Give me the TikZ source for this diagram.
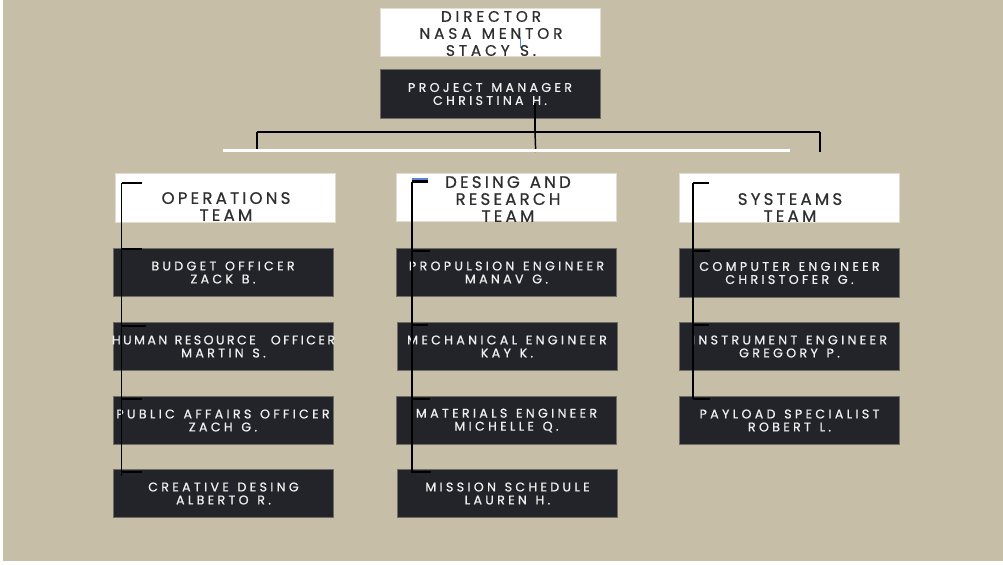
\documentclass[tikz,border=0pt]{standalone}
\usepackage{fontspec}
\newfontfamily\dfont[LetterSpace=26,WordSpace=1.3,FakeBold=0.6]{Poppins}
\newfontfamily\dfontn[LetterSpace=19,WordSpace=1.3,FakeBold=0.6]{Poppins}
\newfontfamily\tfont[LetterSpace=19,WordSpace=1.3,FakeBold=0.6]{Poppins}
\newfontfamily\rfont[LetterSpace=25,WordSpace=1.3,FakeBold=0.6]{Poppins}
\usetikzlibrary{calc}
\definecolor{bg}{HTML}{C6BEA6}
\definecolor{darkbox}{HTML}{232429}
\definecolor{darkedge}{HTML}{6E6C66}
\definecolor{wedge}{HTML}{E2DDD0}
\definecolor{txtdark}{HTML}{2E2E30}
\definecolor{txtlight}{HTML}{F0F0F0}
\definecolor{cursor}{HTML}{5B86D6}
\tikzset{
  wbox/.style={fill=white,draw=wedge,line width=0.6pt,minimum width=165pt,minimum height=36.5pt,inner sep=0pt},
  dbox/.style={fill=darkbox,draw=darkedge,line width=0.6pt,minimum width=165pt,minimum height=36.5pt,inner sep=0pt,
     text=txtlight,align=center,font=\dfont\fontsize{9.5}{9.75}\selectfont},
  ttext/.style={inner sep=0pt,text=txtdark,align=center,font=\tfont\fontsize{12.5}{12.75}\selectfont},
  conn/.style={draw=black,line width=1.1pt},
}
\begin{document}
\begin{tikzpicture}[x=0.75pt,y=-0.75pt]
\useasboundingbox (0,0) rectangle (1003,564);
\fill[white] (0,0) rectangle (1003,564);
\fill[bg] (3,0) rectangle (1003,560.5);

% top
\node[wbox] (dir) at (490,32.5) {};
\node[ttext,font=\rfont\fontsize{11.5}{12.75}\selectfont] (dirt) at (491,33.5) {DIRECTOR\\NASA MENTOR\\STACY S.};
\draw[cursor,line width=0.5pt] (520.5,37) -- (520.5,48);
\node[dbox] (pm) at (490,94) {PROJECT MANAGER\\CHRISTINA H.};

% bus
\coordinate (pmdrop) at (535,103);
\coordinate (busM) at (535,131.5);
\coordinate (busL) at (257,131.5);
\coordinate (busR) at (820,131.5);
\coordinate (dropL) at (257,151);
\coordinate (dropM) at (535.7,152);
\coordinate (dropR) at (820,152);
\coordinate (wl) at (223,150.5);
\coordinate (wr) at (790,150.5);
\draw[conn] (pmdrop) -- (busM);
\draw[conn,line width=1.5pt] (busL) -- (busR);
\draw[conn] (busL) -- (dropL);
\draw[conn] (busR) -- (dropR);
\draw[conn] (busM) -- (dropM);
\draw[white,line width=2.2pt] (wl) -- (wr);

% team boxes
\node[wbox] (ops) at (225,198) {};
\node[ttext] (opst) at (226,206.5) {OPERATIONS\\TEAM};
\node[wbox] (des) at (506,197.5) {};
\node[ttext] (dest) at (508,199) {DESING AND\\RESEARCH\\TEAM};
\node[wbox] (sys) at (789.5,198) {};
\node[ttext] (syst) at (790,207.5) {SYSTEAMS\\TEAM};

% column 1
\node[dbox] (b1) at (223,272.5) {BUDGET OFFICER\\ZACK B.};
\node[dbox] (b2) at (223.5,346.5) {\makebox[150pt]{\dfontn HUMAN RESOURCE\ \ OFFICER}\\MARTIN S.};
\node[dbox] (b3) at (223,420.5) {\makebox[150pt]{PUBLIC AFFAIRS OFFICER}\\ZACH G.};
\node[dbox] (b4) at (223.5,493.5) {CREATIVE DESING\\ALBERTO R.};
% column 2
\node[dbox] (m1) at (506.5,272.5) {PROPULSION ENGINEER\\MANAV G.};
\node[dbox] (m2) at (507,346.5) {MECHANICAL ENGINEER\\KAY K.};
\node[dbox] (m3) at (506.5,420.5) {MATERIALS ENGINEER\\MICHELLE Q.};
\node[dbox] (m4) at (507.5,493.5) {MISSION SCHEDULE\\LAUREN H.};
% column 3
\node[dbox] (s1) at (789.5,273) {COMPUTER ENGINEER\\CHRISTOFER G.};
\node[dbox] (s2) at (789.5,346.5) {INSTRUMENT ENGINEER\\GREGORY P.};
\node[dbox] (s3) at (789.5,420.5) {PAYLOAD SPECIALIST\\ROBERT L.};

% brackets column 1
\foreach \n/\y/\e in {0/183/142,1/249/142,2/326/146,3/399/142,4/472/142}{
  \coordinate (a\n) at (121.5,\y); \coordinate (a\n e) at (\e,\y);
  \draw[conn] (a\n) -- (a\n e);}
\coordinate (abot) at (121.5,476);
\draw[conn] (a0) -- (abot);
% brackets column 2
\draw[cursor,line width=1pt] (412,179) -- (428,179);
\foreach \n/\y/\e in {0/181.5/428,1/251/430,2/325/428,3/399/430,4/472/431}{
  \coordinate (c\n) at (412,\y); \coordinate (c\n e) at (\e,\y);
  \draw[conn] (c\n) -- (c\n e);}
\draw[conn,line width=2.4pt] (c0) -- (c0e);
\coordinate (cbot) at (412,473);
\draw[conn] (c0) -- (cbot);
% brackets column 3
\foreach \n/\y/\e in {0/183/709,1/251/710,2/325/709,3/399/710}{
  \coordinate (d\n) at (693,\y); \coordinate (d\n e) at (\e,\y);
  \draw[conn] (d\n) -- (d\n e);}
\draw[conn] (d0) -- (d3);
\end{tikzpicture}
\end{document}
